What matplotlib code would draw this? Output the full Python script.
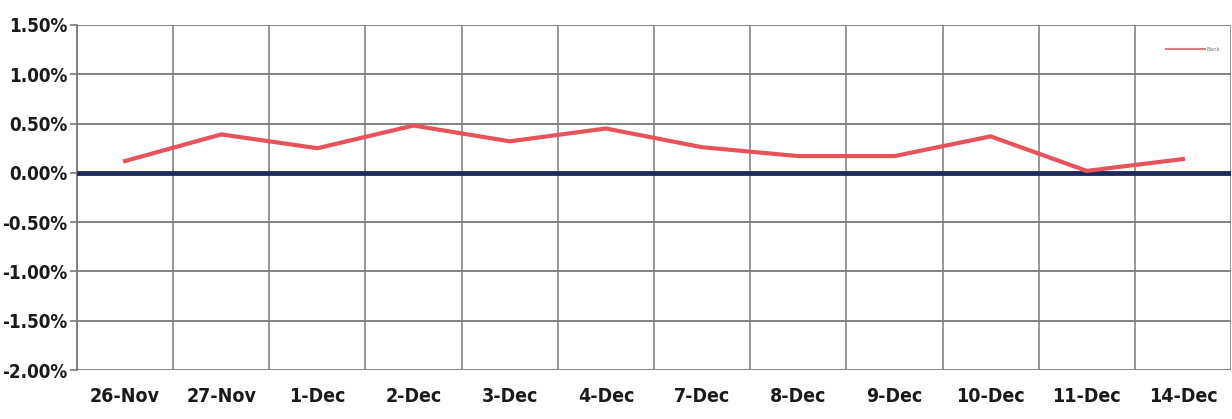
import matplotlib
matplotlib.use("Agg")
import matplotlib.pyplot as plt
from matplotlib.ticker import FixedLocator, FuncFormatter

# Daily return series
dates = ["26-Nov", "27-Nov", "1-Dec", "2-Dec", "3-Dec", "4-Dec",
         "7-Dec", "8-Dec", "9-Dec", "10-Dec", "11-Dec", "14-Dec"]
returns = [0.12, 0.39, 0.25, 0.48, 0.32, 0.45,
           0.26, 0.17, 0.17, 0.37, 0.02, 0.14]
series_name = "Bank"
y_ticks = [1.5, 1.0, 0.5, 0.0, -0.5, -1.0, -1.5, -2.0]

label_font = ["DejaVu Sans"]

W, H = 1232, 419
fig = plt.figure(figsize=(W / 100, H / 100), dpi=100)
ax = fig.add_axes([77 / W, 1 - 370 / H, (1231 - 77) / W, (370 - 25) / H])

x = list(range(len(dates)))
ax.set_xlim(-0.5, len(dates) - 0.5)
ax.set_ylim(min(y_ticks), max(y_ticks))

# grid: horizontal at each y tick, vertical between categories
ax.yaxis.set_major_locator(FixedLocator(y_ticks))
ax.yaxis.set_major_formatter(FuncFormatter(lambda v, p: f"{v:.2f}%"))
ax.set_xticks(x)
ax.set_xticklabels(dates)
ax.set_xticks([i + 0.5 for i in range(-1, len(dates))], minor=True)

ax.grid(True, which="major", axis="y", color="#7a7a7a", linewidth=1.3)
ax.grid(True, which="minor", axis="x", color="#7a7a7a", linewidth=1.1)
ax.set_axisbelow(True)

for s in ["top", "right", "bottom"]:
    ax.spines[s].set_visible(False)
ax.spines["left"].set_color("#7a7a7a")
ax.spines["left"].set_linewidth(1.3)

ax.tick_params(axis="y", which="major", length=5, width=1.2, color="#7a7a7a", pad=2)
ax.tick_params(axis="x", which="major", length=0, pad=12)
ax.tick_params(axis="x", which="minor", length=0)

for lab in ax.get_yticklabels():
    lab.set_fontsize(13.5)
for lab in ax.get_xticklabels():
    lab.set_fontsize(14)
for lab in ax.get_yticklabels() + ax.get_xticklabels():
    lab.set_fontfamily(label_font)
    lab.set_fontweight("bold")
    lab.set_fontstretch("condensed")
    lab.set_color("#1a1a1a")

# zero reference line
ax.axhline(0, color="#1f2b5e", linewidth=3.5, zorder=3)

line, = ax.plot(x, returns, color="#e8525a", linewidth=3, zorder=4,
                solid_joinstyle="miter", label=series_name)

leg = ax.legend(loc="upper right", bbox_to_anchor=(0.995, 0.95), frameon=False,
                handlelength=7, handletextpad=0.3,
                prop={"family": label_font, "size": 4})
for t in leg.get_texts():
    t.set_color("#777777")
leg.get_lines()[0].set_linewidth(1.5)
leg.get_lines()[0].set_color("#d88080")

fig.savefig("out.png", dpi=100, facecolor="white")
